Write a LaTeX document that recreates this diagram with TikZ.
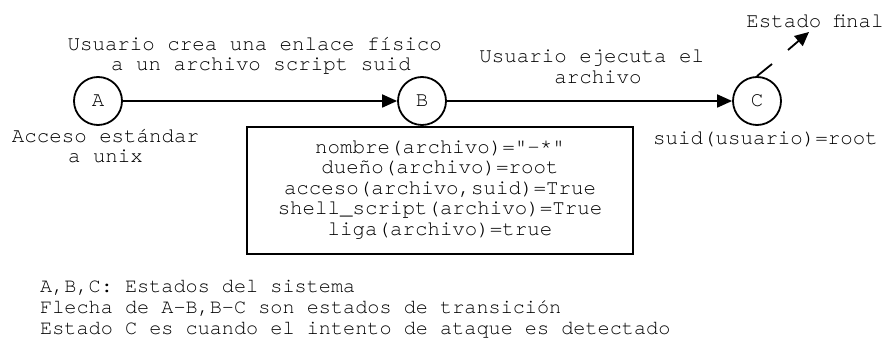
\documentclass[tikz,border=0pt]{standalone}
\usepackage{fontspec}
\setmonofont{TeX Gyre Cursor}
\usetikzlibrary{arrows.meta}
\tikzset{
  txt/.style={font=\fontsize{20.8}{20.5}\selectfont\ttfamily, inner sep=0pt, align=center},
  state/.style={circle, draw, line width=1.8pt, minimum size=48pt, inner sep=0pt,
                font=\fontsize{20.8}{20.5}\selectfont\ttfamily},
  trans/.style={line width=1.8pt, -{Triangle[length=15pt,width=13pt]}},
  infobox/.style={draw, line width=2.2pt},
  legend/.style={font=\fontsize{20.2}{21}\selectfont\ttfamily, inner sep=0pt, align=left}
}
\begin{document}
\begin{tikzpicture}[x=1pt, y=-1pt]
  \useasboundingbox (0,0) rectangle (892,339);

  % states
  \node[state] (A) at (98,101) {A};
  \node[state] (B) at (422,101) {B};
  \node[state] (C) at (757,101) {C};

  % transitions
  \draw[trans] (A) -- (B);
  \draw[trans] (B) -- (C);

  % exit towards the final state
  \coordinate (c1) at (772,64);
  \coordinate (c2) at (788,50);
  \coordinate (c3) at (809,32);
  \draw[line width=1.8pt] (C.north) -- (c1);
  \draw[line width=1.8pt, -{Triangle[length=14pt,width=13pt]}] (c2) -- (c3);

  % labels
  \node[txt] (tAB) at (261,56) {Usuario crea una enlace físico\phantom{x}\\a un archivo script suid};
  \node[txt] (tBC) at (598,67) {Usuario ejecuta el\phantom{x}\\archivo};
  \node[txt] (tA) at (105.5,146) {Acceso estándar\\a unix};
  \node[txt] (tC) at (765.5,139) {suid(usuario)=root};
  \node[txt] (tF) at (815,21) {Estado final};

  % conditions box
  \draw[infobox] (247,127) rectangle (633,254);
  \node[txt] (cond) at (440,190) {nombre(archivo)="-*"\\dueño(archivo)=root\\acceso(archivo,suid)=True\\shell\_script(archivo)=True\\liga(archivo)=true};

  % legend
  \node[legend, anchor=west] (leg) at (40,309) {A,B,C: Estados del sistema\\Flecha de A-B,B-C son estados de transición\\Estado C es cuando el intento de ataque es detectado};
\end{tikzpicture}
\end{document}
